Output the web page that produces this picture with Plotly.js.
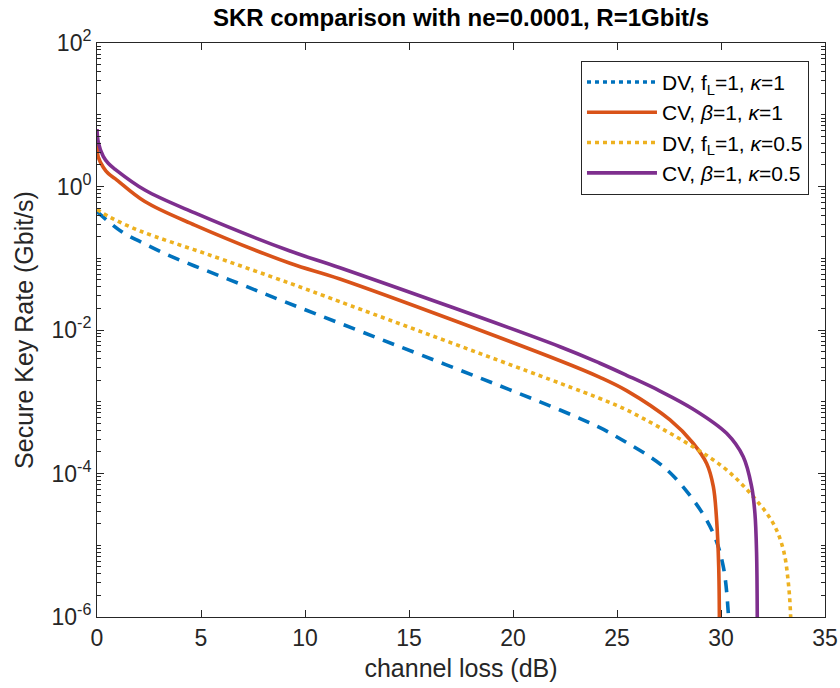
<!DOCTYPE html>
<html>
<head>
<meta charset="utf-8">
<script src="https://cdn.plot.ly/plotly-3.0.1.min.js"></script>
<style>html,body{margin:0;padding:0;background:#fff;}#chart{width:840px;height:688px;}</style>
</head>
<body>
<div id="chart"></div>
<script>
// channel loss (dB) and secure key rate (Gbit/s)
const dvK1X = [0, 1.19, 2.31, 3.48, 4.66, 5.88, 7.03, 8.28, 11.68, 22.26, 24.18, 24.98, 27.23, 28.67, 29.63, 30.11, 30.35, 30.42];
const dvK1Y = [0.447, 0.234, 0.158, 0.1086, 0.0787, 0.0571, 0.0421, 0.0301, 0.01239, 0.000767, 0.000435, 0.000326, 0.0001245, 4.28e-5, 1.47e-5, 5.02e-6, 1.14e-6, 3.2e-7];

const cvK1X = [0, 0.06, 0.3, 0.55, 0.87, 2.3, 4.7, 9.28, 11.68, 22.26, 24.18, 25.46, 27.55, 28.65, 29.31, 29.63, 29.79, 29.89, 29.93];
const cvK1Y = [3.98, 2.57, 1.86, 1.51, 1.29, 0.617, 0.290, 0.0851, 0.0514, 0.00373, 0.00219, 0.00143, 0.000557, 0.000266, 0.000138, 6.6e-5, 2.24e-5, 5.0e-6, 3.2e-7];

const dvK05X = [0, 0.63, 2.07, 5.27, 9.28, 11.68, 22.26, 24.18, 25.47, 28.65, 30.27, 31.55, 32.51, 33.0, 33.24, 33.35, 33.39];
const dvK05Y = [0.479, 0.372, 0.240, 0.1146, 0.0447, 0.0248, 0.00181, 0.00111, 0.000767, 0.000236, 0.000112, 4.75e-5, 2.02e-5, 8.6e-6, 2.95e-6, 1.0e-6, 3.2e-7];

const cvK05X = [0, 0.06, 0.3, 0.55, 0.87, 2.3, 4.7, 9.28, 11.68, 22.26, 24.18, 25.46, 27.07, 28.65, 30.27, 31.07, 31.47, 31.63, 31.71, 31.75];
const cvK05Y = [6.31, 4.17, 2.63, 2.09, 1.74, 0.893, 0.428, 0.126, 0.0738, 0.00585, 0.00344, 0.00234, 0.00141, 0.000794, 0.000363, 0.000171, 6.6e-5, 2.8e-5, 7.9e-6, 3.2e-7];

const seriesNames = [
  'DV, f<sub>L</sub>=1, <i>κ</i>=1',
  'CV, <i>β</i>=1, <i>κ</i>=1',
  'DV, f<sub>L</sub>=1, <i>κ</i>=0.5',
  'CV, <i>β</i>=1, <i>κ</i>=0.5'
];
const yTickVals = [1e-6, 1e-4, 1e-2, 1, 1e2];
const yTickText = ['10<sup>-6</sup>', '10<sup>-4</sup>', '10<sup>-2</sup>', '10<sup>0</sup>', '10<sup>2</sup>'];
const xTickVals = [0, 5, 10, 15, 20, 25, 30, 35];

const cBlue = '#0072BD', cOrange = '#D95319', cYellow = '#EDB120', cPurple = '#7E2F8E';
const LW = 3.6;
const SM = 1.0;
const FONT = 'Liberation Sans, Arial, Helvetica, sans-serif';

const traces = [
  {x: [null], y: [null], mode: 'lines', name: seriesNames[0], line: {color: cBlue, width: LW, dash: '4px,4px'}},
  {x: dvK1X, y: dvK1Y, mode: 'lines', showlegend: false, line: {color: cBlue, width: LW, dash: '12px,9px', shape: 'spline', smoothing: SM}},
  {x: cvK1X, y: cvK1Y, mode: 'lines', name: seriesNames[1], line: {color: cOrange, width: LW, shape: 'spline', smoothing: SM}},
  {x: dvK05X, y: dvK05Y, mode: 'lines', name: seriesNames[2], line: {color: cYellow, width: LW, dash: '4px,4px', shape: 'spline', smoothing: SM}},
  {x: cvK05X, y: cvK05Y, mode: 'lines', name: seriesNames[3], line: {color: cPurple, width: LW, shape: 'spline', smoothing: SM}}
];

const axisCommon = {
  showline: true, linecolor: '#262626', linewidth: 1, mirror: 'allticks',
  ticks: 'inside', tickcolor: '#262626', tickwidth: 1, showgrid: false, zeroline: false,
  tickfont: {family: FONT, size: 23, color: '#262626'}
};

const layout = {
  width: 840, height: 688,
  margin: {l: 97, r: 15, t: 43, b: 71},
  paper_bgcolor: '#fff', plot_bgcolor: '#fff',
  font: {family: FONT, color: '#262626'},
  title: {text: '<b>SKR comparison with ne=0.0001, R=1Gbit/s</b>', x: 0.5, xref: 'paper', xanchor: 'center', y: 0.974, yanchor: 'middle',
          font: {family: FONT, size: 24, color: '#000'}},
  xaxis: Object.assign({}, axisCommon, {
    range: [0, 35], tickmode: 'array', tickvals: xTickVals, ticklen: 7,
    title: {text: 'channel loss (dB)', font: {family: FONT, size: 25, color: '#262626'}, standoff: 9}
  }),
  yaxis: Object.assign({}, axisCommon, {
    type: 'log', range: [-6, 2], tickmode: 'array', tickvals: yTickVals, ticktext: yTickText, ticklen: 7,
    minor: {ticks: 'inside', ticklen: 4, tickcolor: '#262626', dtick: 'D1', showgrid: false},
    title: {text: 'Secure Key Rate (Gbit/s)', font: {family: FONT, size: 25, color: '#262626'}, standoff: 10}
  }),
  legend: {
    x: 0.978, y: 0.969, xanchor: 'right', yanchor: 'top',
    bgcolor: '#fff', bordercolor: '#262626', borderwidth: 1,
    font: {family: FONT, size: 21, color: '#000'},
    itemwidth: 70
  },
  showlegend: true
};

Plotly.newPlot('chart', traces, layout, {displayModeBar: false, staticPlot: true});
</script>
</body>
</html>
